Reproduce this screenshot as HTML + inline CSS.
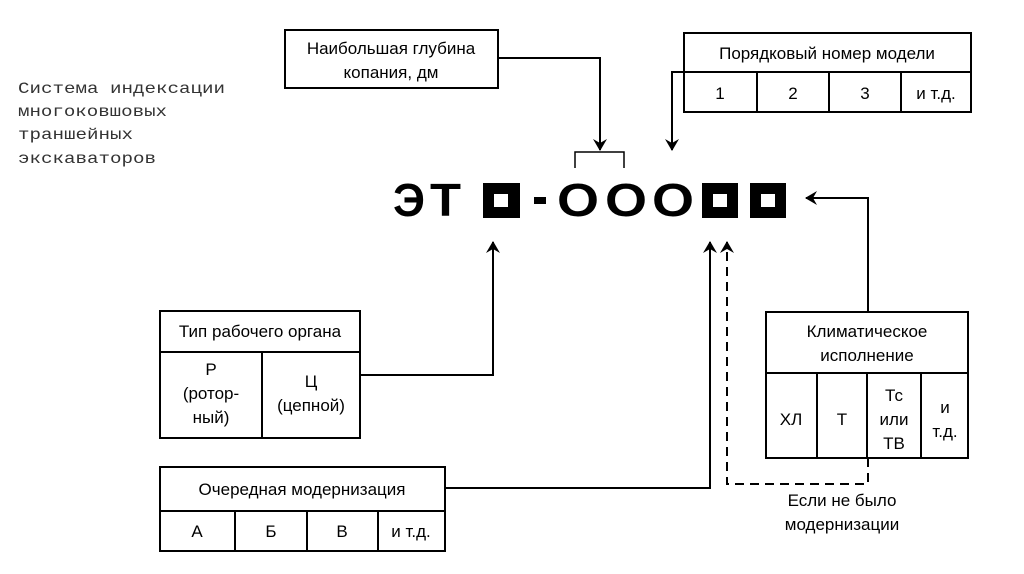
<!DOCTYPE html>
<html><head><meta charset="utf-8"><style>
body{margin:0;background:#fff}
svg{display:block}
.t{font-family:"Liberation Sans","Noto Sans CJK SC",sans-serif;font-size:17px;fill:#000;text-anchor:middle}
.m{font-family:"Liberation Mono","Noto Sans CJK SC",monospace;font-size:16px;fill:#333}
.b{font-family:"Liberation Sans","Noto Sans CJK SC",sans-serif;font-weight:bold;font-size:46px;fill:#000}
</style></head><body>
<svg width="1024" height="574" viewBox="0 0 1024 574">
<defs><marker id="a" markerWidth="12" markerHeight="14" refX="11" refY="7" orient="auto" markerUnits="userSpaceOnUse"><path d="M0,0 L12,7 L0,14 L4,7 Z" fill="#000"/></marker></defs>
<g fill="none" stroke="#000" stroke-width="2">
<rect x="285" y="30" width="213" height="58"/>
<rect x="684" y="33" width="287" height="79"/><line x1="684" y1="72" x2="971" y2="72"/>
<line x1="757" y1="72" x2="757" y2="112"/><line x1="829" y1="72" x2="829" y2="112"/><line x1="901" y1="72" x2="901" y2="112"/>
<rect x="160" y="311" width="200" height="127"/><line x1="160" y1="352" x2="360" y2="352"/><line x1="262" y1="352" x2="262" y2="438"/>
<rect x="160" y="467" width="285" height="84"/><line x1="160" y1="511" x2="445" y2="511"/>
<line x1="235" y1="511" x2="235" y2="551"/><line x1="307" y1="511" x2="307" y2="551"/><line x1="378" y1="511" x2="378" y2="551"/>
<rect x="766" y="312" width="202" height="146"/><line x1="766" y1="373" x2="968" y2="373"/>
<line x1="817" y1="373" x2="817" y2="458"/><line x1="867" y1="373" x2="867" y2="458"/><line x1="921" y1="373" x2="921" y2="458"/>
<path d="M498,58 H600 V150" marker-end="url(#a)"/>
<path d="M575,168 V152 H624 V168" stroke-width="1.5"/>
<path d="M684,72 H672 V150" marker-end="url(#a)"/>
<path d="M360,375 H493 V242" marker-end="url(#a)"/>
<path d="M445,488 H710 V242" marker-end="url(#a)"/>
<path d="M868,312 V198 H806" marker-end="url(#a)"/>
<path d="M868,458 V484 H727 V242" stroke-dasharray="9,6" marker-end="url(#a)"/>
</g>
<text class="b" x="393" y="216" textLength="32" lengthAdjust="spacingAndGlyphs">Э</text>
<text class="b" x="430" y="216" textLength="31" lengthAdjust="spacingAndGlyphs">Т</text>
<rect x="483" y="183" width="37" height="35" fill="#000"/><rect x="494" y="194" width="14" height="13" fill="#fff"/>
<rect x="534" y="197" width="12" height="7" fill="#000"/>
<text class="b" x="557" y="216" textLength="42" lengthAdjust="spacingAndGlyphs">O</text>
<text class="b" x="605" y="216" textLength="42" lengthAdjust="spacingAndGlyphs">O</text>
<text class="b" x="652" y="216" textLength="42" lengthAdjust="spacingAndGlyphs">O</text>
<rect x="702" y="183" width="36" height="35" fill="#000"/><rect x="713" y="194" width="14" height="13" fill="#fff"/>
<rect x="750" y="183" width="36" height="35" fill="#000"/><rect x="761" y="194" width="14" height="13" fill="#fff"/>
<text class="t" x="391" y="54">Наибольшая глубина</text>
<text class="t" x="391" y="78">копания, дм</text>
<text class="t" x="827" y="59">Порядковый номер модели</text>
<text class="t" x="720" y="99">1</text><text class="t" x="793" y="99">2</text><text class="t" x="865" y="99">3</text><text class="t" x="936" y="99">и т.д.</text>
<text class="t" x="260" y="337">Тип рабочего органа</text>
<text class="t" x="211" y="375">Р</text><text class="t" x="211" y="399">(ротор-</text><text class="t" x="211" y="423">ный)</text>
<text class="t" x="311" y="387">Ц</text><text class="t" x="311" y="411">(цепной)</text>
<text class="t" x="302" y="495">Очередная модернизация</text>
<text class="t" x="197" y="537">А</text><text class="t" x="271" y="537">Б</text><text class="t" x="342" y="537">В</text><text class="t" x="411" y="537">и т.д.</text>
<text class="t" x="867" y="337">Климатическое</text><text class="t" x="867" y="361">исполнение</text>
<text class="t" x="791" y="425">ХЛ</text><text class="t" x="842" y="425">Т</text>
<text class="t" x="894" y="401">Тс</text><text class="t" x="894" y="425">или</text><text class="t" x="894" y="449">ТВ</text>
<text class="t" x="945" y="413">и</text><text class="t" x="945" y="437">т.д.</text>
<text class="t" x="842" y="506">Если не было</text><text class="t" x="842" y="530">модернизации</text>
<text class="m" x="18" y="93" textLength="207" lengthAdjust="spacingAndGlyphs">Система индексации</text>
<text class="m" x="18" y="116" textLength="149" lengthAdjust="spacingAndGlyphs">многоковшовых</text>
<text class="m" x="18" y="139" textLength="115" lengthAdjust="spacingAndGlyphs">траншейных</text>
<text class="m" x="18" y="163" textLength="138" lengthAdjust="spacingAndGlyphs">экскаваторов</text>
</svg>
</body></html>
